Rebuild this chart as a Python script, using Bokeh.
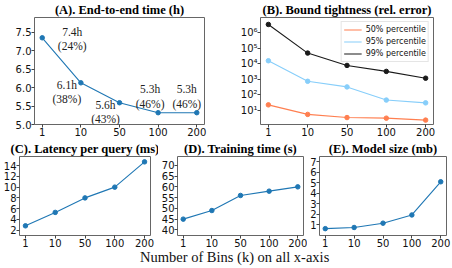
from bokeh.plotting import figure
from bokeh.layouts import column, row
from bokeh.models import FixedTicker, PrintfTickFormatter, Range1d, Div
from bokeh.embed import file_html
from bokeh.resources import INLINE
from bokeh.core.properties import value

# ---------------- data ----------------
bins = ["1", "10", "50", "100", "200"]

e2e_hours = [7.35, 6.13, 5.59, 5.32, 5.32]
e2e_notes = ["7.4h\n(24%)", "6.1h\n(38%)", "5.6h\n(43%)", "5.3h\n(46%)", "5.3h\n(46%)"]

err_p50 = [23, 5.6, 3.5, 3.2, 2.4]
err_p95 = [1.6e4, 760, 330, 47, 31]
err_p99 = [3.5e6, 5.0e4, 8.0e3, 3.3e3, 1.2e3]
err_names = ["50% percentile", "95% percentile", "99% percentile"]

latency_ms = [2.8, 5.3, 8.0, 10.0, 14.7]
train_s = [45, 49, 56, 58, 60]
size_mb = [0.65, 0.76, 1.17, 1.95, 5.1]

log_ticks = [10, 100, 1000, 10000, 100000, 1000000]
log_tick_labels = ["10\u00b9", "10\u00b2", "10\u00b3", "10\u2074", "10\u2075", "10\u2076"]

x_label = "Number of Bins (k) on all x-axis"

# label placement (screen px offsets from each point; + is down)
note_dx = [30, -14, -14, -8, -10]
note_dy = [1, 9, 9, -16, -16]

# ---------------- styling ----------------
SERIF = "Liberation Serif"
SANS = "DejaVu Sans"
BLUE = "#1f77b4"
FRAME = "#666666"
xpos = list(range(len(bins)))


def make_fig(title, width, height, ylim, bl, br, bt, bb, y_type="linear"):
    p = figure(width=width, height=height, output_backend="svg", toolbar_location=None,
               x_range=Range1d(-0.2, len(bins) - 0.8), y_range=Range1d(*ylim),
               y_axis_type=y_type, title=title,
               min_border_left=bl, min_border_right=br, min_border_top=bt, min_border_bottom=bb)
    p.outline_line_color = FRAME
    p.outline_line_width = 1
    p.grid.visible = False
    p.background_fill_color = "white"
    p.border_fill_color = "white"
    p.title.text_font = SERIF
    p.title.text_font_size = "12.5px"
    p.title.text_font_style = "bold"
    p.title.text_color = "black"
    p.title.align = "center"
    p.title.standoff = 1
    p.title.offset = 0
    p.xaxis.ticker = FixedTicker(ticks=xpos)
    p.xaxis.major_label_overrides = {i: b for i, b in zip(xpos, bins)}
    for ax in p.axis:
        ax.axis_line_color = None
        ax.major_tick_line_color = "#444444"
        ax.major_tick_out = 3
        ax.major_tick_in = 0
        ax.minor_tick_line_color = None
        ax.major_label_text_font = SANS
        ax.major_label_text_font_size = "10px"
        ax.major_label_text_color = "#111111"
        ax.major_label_standoff = 0
        ax.axis_label_standoff = 0
    return p


def series(p, ys, color, legend=None):
    if legend:
        p.line(xpos, ys, line_color=color, line_width=1.1, legend_label=legend)
    else:
        p.line(xpos, ys, line_color=color, line_width=1.1)
    p.scatter(xpos, ys, size=4.5, fill_color=color, line_color=color)


TOP_H = 139
BOT_H = 111

# (A)
pa = make_fig("(A). End-to-end time (h)", 230, TOP_H, (5.0, 7.9), 34, 26, 14, 15)
pa.yaxis.ticker = FixedTicker(ticks=[5.0, 5.5, 6.0, 6.5, 7.0, 7.5])
pa.yaxis.formatter = PrintfTickFormatter(format="%.1f")
series(pa, e2e_hours, BLUE)
pa.text(xpos, e2e_hours, text=e2e_notes, x_offset=note_dx, y_offset=note_dy,
        text_font=value(SERIF), text_font_size="11.5px", text_align="center",
        text_baseline="middle", text_color="#222222", text_line_height=1.2)

# (B)
pb = make_fig("(B). Bound tightness (rel. error)", 222, TOP_H, (1.25, 9.8e6), 30, 19, 14, 15, y_type="log")
pb.yaxis.ticker = FixedTicker(ticks=log_ticks)
pb.yaxis.major_label_overrides = {t: l for t, l in zip(log_ticks, log_tick_labels)}
series(pb, err_p50, "#ff7f50", err_names[0])
series(pb, err_p95, "#87cefa", err_names[1])
series(pb, err_p99, "#1a1a1a", err_names[2])
lg = pb.legend[0]
lg.location = "top_right"
lg.margin = 4
lg.padding = 2
lg.spacing = 1
lg.label_height = 11
lg.label_width = 10
lg.glyph_height = 11
lg.glyph_width = 18
lg.label_standoff = 4
lg.label_text_font = SANS
lg.label_text_font_size = "8px"
lg.label_text_color = "#111111"
lg.border_line_color = "#cccccc"
lg.border_line_width = 1
lg.background_fill_alpha = 0.85

# (C)
pc = make_fig("(C). Latency per query (ms)", 158, BOT_H, (1.0, 15.7), 17, 8, 14, 15)
pc.yaxis.ticker = FixedTicker(ticks=[2, 4, 6, 8, 10, 12, 14])
series(pc, latency_ms, BLUE)

# (D)
pd_ = make_fig("(D). Training time (s)", 149, BOT_H, (37.4, 74.1), 16, 4, 14, 15)
pd_.yaxis.ticker = FixedTicker(ticks=[40, 45, 50, 55, 60, 65, 70])
series(pd_, train_s, BLUE)

# (E)
pe = make_fig("(E). Model size (mb)", 145, BOT_H, (0.0, 7.5), 10, 6, 14, 15)
pe.yaxis.ticker = FixedTicker(ticks=[1, 2, 3, 4, 5, 6, 7])
series(pe, size_mb, BLUE)

xlab = Div(text=('<div style="text-align:left; padding-left:140px; margin-top:-2px; '
                 'font-family:\'Liberation Serif\'; font-size:14.5px; line-height:15px; '
                 'color:#111111; white-space:nowrap;">' + x_label + '</div>'),
           width=452, height=18, margin=0)

layout = column(row(pa, pb), row(pc, pd_, pe), xlab)
open("out.html", "w").write(file_html(layout, INLINE))
